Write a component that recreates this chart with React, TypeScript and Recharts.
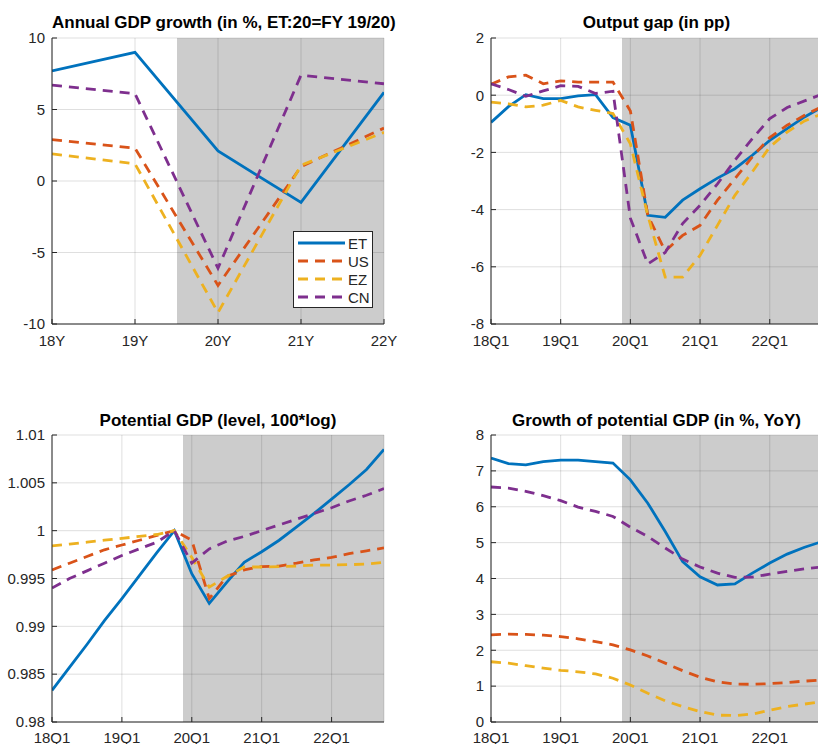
import React from 'react';
import { LineChart, Line, XAxis, YAxis, CartesianGrid, Legend } from 'recharts';

// annual GDP growth
const years = [18, 19, 20, 21, 22];
const annualET = [7.7, 9.0, 2.1, -1.5, 6.2];
const annualUS = [2.9, 2.3, -7.3, 1.0, 3.7];
const annualEZ = [1.9, 1.2, -9.2, 1.1, 3.4];
const annualCN = [6.7, 6.1, -6.1, 7.4, 6.8];

// quarterly series
const quarters = [
  '18Q1', '18Q2', '18Q3', '18Q4', '19Q1', '19Q2', '19Q3', '19Q4', '20Q1', '20Q2',
  '20Q3', '20Q4', '21Q1', '21Q2', '21Q3', '21Q4', '22Q1', '22Q2', '22Q3', '22Q4',
];
const gapET = [-0.95, -0.4, 0.02, -0.12, -0.12, -0.02, 0.02, -0.78, -1.05, -4.2, -4.27, -3.67, -3.27, -2.9, -2.57, -2.1, -1.58, -1.17, -0.76, -0.42];
const gapUS = [0.38, 0.64, 0.7, 0.4, 0.5, 0.46, 0.46, 0.46, -0.55, -4.2, -5.45, -4.9, -4.55, -3.67, -2.92, -2.16, -1.48, -1.05, -0.7, -0.4];
const gapEZ = [-0.24, -0.3, -0.41, -0.35, -0.18, -0.41, -0.53, -0.64, -1.7, -4.2, -6.36, -6.36, -5.6, -4.55, -3.5, -2.68, -1.81, -1.29, -0.9, -0.65];
const gapCN = [0.4, 0.2, -0.04, 0.15, 0.33, 0.31, 0.06, 0.14, -4.3, -5.9, -5.5, -4.49, -3.85, -3.1, -2.28, -1.52, -0.82, -0.43, -0.2, 0.03];

const potET = [0.9833, 0.9857, 0.9881, 0.9906, 0.9929, 0.9953, 0.9977, 1.0, 0.9955, 0.9924, 0.9946, 0.9967, 0.9978, 0.999, 1.0004, 1.0018, 1.0033, 1.0048, 1.0064, 1.0085];
const potUS = [0.9959, 0.9966, 0.9973, 0.998, 0.9985, 0.999, 0.9995, 1.0, 0.999, 0.9929, 0.9952, 0.9959, 0.99625, 0.9963, 0.9966, 0.99695, 0.9972, 0.9976, 0.9979, 0.9982];
const potEZ = [0.9984, 0.9986, 0.9988, 0.999, 0.9992, 0.9994, 0.9996, 1.0, 0.9972, 0.9941, 0.9952, 0.9962, 0.9962, 0.99625, 0.9963, 0.9964, 0.9964, 0.99645, 0.9965, 0.9967];
const potCN = [0.994, 0.995, 0.9958, 0.9966, 0.9974, 0.9981, 0.9988, 1.0, 0.9966, 0.9981, 0.9989, 0.9994, 1.0, 1.0006, 1.0012, 1.0018, 1.0024, 1.0031, 1.0037, 1.0044];

const growET = [7.36, 7.2, 7.17, 7.26, 7.3, 7.3, 7.26, 7.22, 6.75, 6.1, 5.31, 4.47, 4.05, 3.82, 3.85, 4.15, 4.43, 4.68, 4.87, 5.03];
const growUS = [2.43, 2.45, 2.44, 2.42, 2.38, 2.32, 2.24, 2.15, 2.01, 1.84, 1.64, 1.43, 1.25, 1.12, 1.06, 1.05, 1.07, 1.1, 1.14, 1.17];
const growEZ = [1.68, 1.64, 1.57, 1.5, 1.44, 1.4, 1.34, 1.22, 1.03, 0.8, 0.59, 0.43, 0.29, 0.19, 0.18, 0.22, 0.33, 0.43, 0.5, 0.57];
const growCN = [6.55, 6.52, 6.43, 6.31, 6.17, 5.99, 5.87, 5.73, 5.43, 5.17, 4.85, 4.54, 4.32, 4.15, 4.03, 4.04, 4.12, 4.2, 4.27, 4.32];

const SERIES = [
  { key: 'ET', color: '#0072BD', dash: undefined as string | undefined },
  { key: 'US', color: '#D95319', dash: '10 7' },
  { key: 'EZ', color: '#EDB120', dash: '10 7' },
  { key: 'CN', color: '#7E2F8E', dash: '10 7' },
];

const AXIS = '#262626';
const FONT = '"Liberation Sans", Arial, sans-serif';

const annualData = years.map((y, i) => ({ t: y, ET: annualET[i], US: annualUS[i], EZ: annualEZ[i], CN: annualCN[i] }));
const makeQ = (et: number[], us: number[], ez: number[], cn: number[]) =>
  quarters.map((q, i) => ({ t: i, q, ET: et[i], US: us[i], EZ: ez[i], CN: cn[i] }));
const gapData = makeQ(gapET, gapUS, gapEZ, gapCN);
const potData = makeQ(potET, potUS, potEZ, potCN);
const growData = makeQ(growET, growUS, growEZ, growCN);

const qTicks = [0, 4, 8, 12, 16];

function GdpLegend() {
  return (
    <div style={{ width: 80, height: 77, border: `1px solid ${AXIS}`, background: '#fff', boxSizing: 'border-box', paddingTop: 2, paddingLeft: 4 }}>
      {SERIES.map((s) => (
        <div key={s.key} style={{ display: 'flex', alignItems: 'center', height: 18 }}>
          <svg width={47} height={4}>
            <line x1={0} y1={2} x2={47} y2={2} stroke={s.color} strokeWidth={2.8} strokeDasharray={s.dash} />
          </svg>
          <span style={{ marginLeft: 3, fontSize: 15, color: AXIS, fontFamily: FONT }}>{s.key}</span>
        </div>
      ))}
    </div>
  );
}

type PanelProps = {
  left: number;
  top: number;
  width: number;
  title: string;
  titleY: number;
  data: any[];
  xDomain: [number, number];
  xTicks: number[];
  xFormat: (v: number) => string;
  shadeFrom: number;
  yDomain: [number, number];
  yTicks: number[];
  yWidth: number;
  marginTop: number;
  marginRight: number;
  plotH: number;
  xHeight: number;
  xMargin: number;
  legend?: boolean;
};

function Panel(p: PanelProps) {
  const height = 372;
  const plotLeft = p.yWidth;
  const plotRight = p.width - p.marginRight;
  const tickStyle = { fontSize: 15, fill: AXIS, fontFamily: FONT };
  // x position of the start of the shaded (forecast) region, from the x scale
  const shadeX = (props: any) => {
    const sc = props?.xAxis?.scale;
    if (sc && typeof sc === 'function') return [sc(p.shadeFrom)];
    const o = props.offset;
    return [o.left + (o.width * (p.shadeFrom - p.xDomain[0])) / (p.xDomain[1] - p.xDomain[0])];
  };
  return (
    <div style={{ position: 'absolute', left: p.left, top: p.top, width: p.width, height }}>
      <div
        style={{
          position: 'absolute', left: plotLeft, width: plotRight - plotLeft, top: p.titleY - 10, lineHeight: '20px',
          textAlign: 'center', fontWeight: 'bold', fontSize: 17, fontFamily: FONT, color: '#000', whiteSpace: 'nowrap',
        }}
      >
        {p.title}
      </div>
      <LineChart
        width={p.width}
        height={height}
        data={p.data}
        margin={{ top: p.marginTop, right: p.marginRight, left: 0, bottom: height - p.marginTop - p.plotH - p.xHeight }}
      >
        <CartesianGrid
          stroke="none" horizontal={false} verticalCoordinatesGenerator={shadeX}
          verticalFill={['#ffffff', '#cccccc']} fillOpacity={1}
        />
        <CartesianGrid stroke="rgba(38,38,38,0.15)" />
        <XAxis
          dataKey="t" type="number" domain={p.xDomain} ticks={p.xTicks} tickFormatter={p.xFormat}
          height={p.xHeight} allowDataOverflow tick={tickStyle} tickSize={-5} tickMargin={p.xMargin}
          axisLine={{ stroke: AXIS }} tickLine={{ stroke: AXIS }} interval={0}
        />
        <XAxis
          xAxisId="top" orientation="top" dataKey="t" type="number" domain={p.xDomain} ticks={p.xTicks}
          tickFormatter={() => ''} height={0} allowDataOverflow tickSize={-5} axisLine={{ stroke: AXIS }} tickLine={{ stroke: AXIS }}
        />
        <YAxis
          type="number" domain={p.yDomain} ticks={p.yTicks} width={p.yWidth} allowDataOverflow interval={0}
          tick={tickStyle} tickSize={-5} tickMargin={12} axisLine={{ stroke: AXIS }} tickLine={{ stroke: AXIS }}
        />
        <YAxis
          yAxisId="right" orientation="right" type="number" domain={p.yDomain} ticks={p.yTicks} width={0}
          tickFormatter={() => ''} allowDataOverflow tickSize={-5} axisLine={{ stroke: AXIS }} tickLine={{ stroke: AXIS }}
        />
        {SERIES.map((s) => (
          <Line
            key={s.key} dataKey={s.key} name={s.key} stroke={s.color} strokeWidth={2.8} strokeDasharray={s.dash}
            dot={false} activeDot={false} isAnimationActive={false} type="linear"
          />
        ))}
        {p.legend && (
          <Legend
            layout="vertical" align="center" verticalAlign="middle" content={<GdpLegend />}
            wrapperStyle={{ left: 293, top: 231, width: 80, height: 77 }}
          />
        )}
      </LineChart>
    </div>
  );
}

export default function App() {
  return (
    <div style={{ position: 'absolute', left: 0, top: 0, width: 818, height: 744, overflow: 'hidden', background: '#fff', fontFamily: FONT }}>
      <Panel
        left={0} top={0} width={409} title="Annual GDP growth (in %, ET:20=FY 19/20)" titleY={23}
        data={annualData} xDomain={[18, 22]} xTicks={years} xFormat={(v) => `${v}Y`} shadeFrom={19.5}
        yDomain={[-10, 10]} yTicks={[-10, -5, 0, 5, 10]} yWidth={52} marginTop={38} marginRight={25} plotH={286} xHeight={30} xMargin={16} legend
      />
      <Panel
        left={409} top={0} width={413} title="Output gap (in pp)" titleY={23}
        data={gapData} xDomain={[0, 19]} xTicks={qTicks} xFormat={(v) => quarters[v]} shadeFrom={7.5}
        yDomain={[-8, 2]} yTicks={[-8, -6, -4, -2, 0, 2]} yWidth={82} marginTop={38} marginRight={0} plotH={286} xHeight={30} xMargin={16}
      />
      <Panel
        left={0} top={372} width={409} title="Potential GDP (level, 100*log)" titleY={49}
        data={potData} xDomain={[0, 19]} xTicks={qTicks} xFormat={(v) => quarters[v]} shadeFrom={7.5}
        yDomain={[0.98, 1.01]} yTicks={[0.98, 0.985, 0.99, 0.995, 1, 1.005, 1.01]} yWidth={52} marginTop={63} marginRight={25} plotH={287} xHeight={22} xMargin={15}
      />
      <Panel
        left={409} top={372} width={413} title="Growth of potential GDP (in %, YoY)" titleY={49}
        data={growData} xDomain={[0, 19]} xTicks={qTicks} xFormat={(v) => quarters[v]} shadeFrom={7.5}
        yDomain={[0, 8]} yTicks={[0, 1, 2, 3, 4, 5, 6, 7, 8]} yWidth={82} marginTop={63} marginRight={0} plotH={287} xHeight={22} xMargin={15}
      />
    </div>
  );
}
